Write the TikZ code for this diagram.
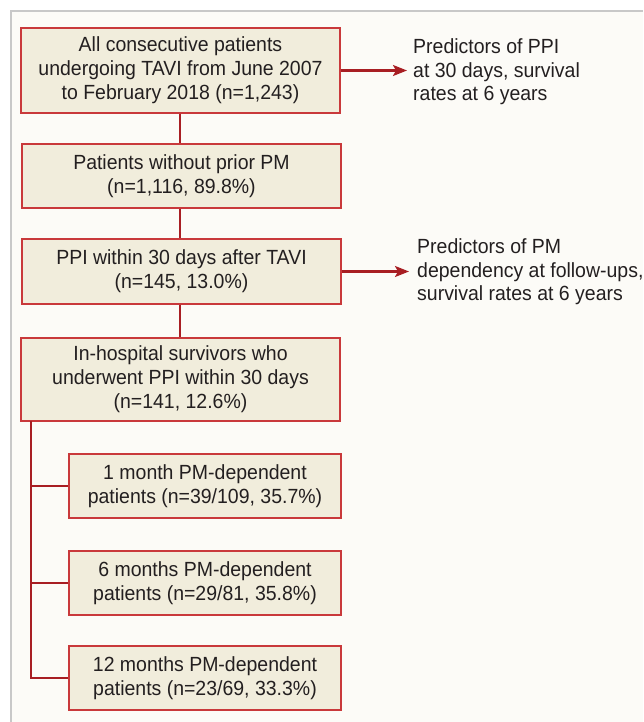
\documentclass[tikz,border=0pt]{standalone}
\usepackage{fontspec}
\setmainfont[FakeStretch=0.95]{Liberation Sans}
\usetikzlibrary{arrows.meta}
\definecolor{boxfill}{HTML}{F1EDDC}
\definecolor{boxline}{HTML}{C9393B}
\definecolor{conn}{HTML}{A81E23}
\definecolor{framebg}{HTML}{FCFBF7}
\definecolor{frameline}{HTML}{C8C8C8}
\definecolor{txt}{HTML}{231F20}
\tikzset{
  box/.style={draw=boxline, line width=1.2pt, fill=boxfill, align=center, inner sep=0pt,
    text=txt, font=\fontsize{20.5}{24}\selectfont},
  note/.style={align=left, inner sep=0pt, text=txt, font=\fontsize{20.5}{23.5}\selectfont, anchor=west},
  conn/.style={draw=conn, line width=2.2pt},
  arr/.style={conn, -{Stealth[length=14pt,width=11pt,inset=3pt]}}
}
\begin{document}
\begin{tikzpicture}[x=1pt,y=-1pt]
\useasboundingbox (0,0) rectangle (643,722);
\fill[white] (0,0) rectangle (643,722);
\fill[framebg] (11,11) rectangle (643,722);
\draw[frameline, line width=1.5pt] (11,722) -- (11,11) -- (643,11);

\node[box, minimum width=319pt, minimum height=85pt] (b1) at (180.5,70.5)
  {All consecutive patients\\undergoing TAVI from June 2007\\to February 2018 (n=1,243)};
\node[box, minimum width=319pt, minimum height=64pt] (b2) at (181.5,176)
  {Patients without prior PM\\(n=1,116, 89.8\%)};
\node[box, minimum width=319pt, minimum height=65pt] (b3) at (181.5,271.5)
  {PPI within 30 days after TAVI\\(n=145, 13.0\%)};
\node[box, minimum width=319pt, minimum height=83pt] (b4) at (180.5,379.5)
  {In-hospital survivors who\\underwent PPI within 30 days\\(n=141, 12.6\%)};
\node[box, minimum width=272pt, minimum height=64pt] (b5) at (205,486)
  {1 month PM-dependent\\patients (n=39/109, 35.7\%)};
\node[box, minimum width=272pt, minimum height=64pt] (b6) at (205,583)
  {6 months PM-dependent\\patients (n=29/81, 35.8\%)};
\node[box, minimum width=272pt, minimum height=64pt] (b7) at (205,678)
  {12 months PM-dependent\\patients (n=23/69, 33.3\%)};

\node[note] (p1) at (413,72) {Predictors of PPI\\at 30 days, survival\\rates at 6 years};
\node[note] (p2) at (417,272) {Predictors of PM\\dependency at follow-ups,\\survival rates at 6 years};

\coordinate (a1) at (407,70.5);
\coordinate (a2) at (409,271.5);
\coordinate (t0) at (31,421);
\coordinate (t5) at (31,486);
\coordinate (t6) at (31,583);
\coordinate (t7) at (31,678);

\draw[conn] (b1.south -| 180,0) -- (b2.north -| 180,0);
\draw[conn] (b2.south -| 180,0) -- (b3.north -| 180,0);
\draw[conn] (b3.south -| 180,0) -- (b4.north -| 180,0);
\draw[arr] (b1.east) -- (a1);
\draw[arr] (b3.east) -- (a2);
\draw[conn] (t0) -- (t7) -- (b7.west);
\draw[conn] (t5) -- (b5.west);
\draw[conn] (t6) -- (b6.west);
\end{tikzpicture}
\end{document}
